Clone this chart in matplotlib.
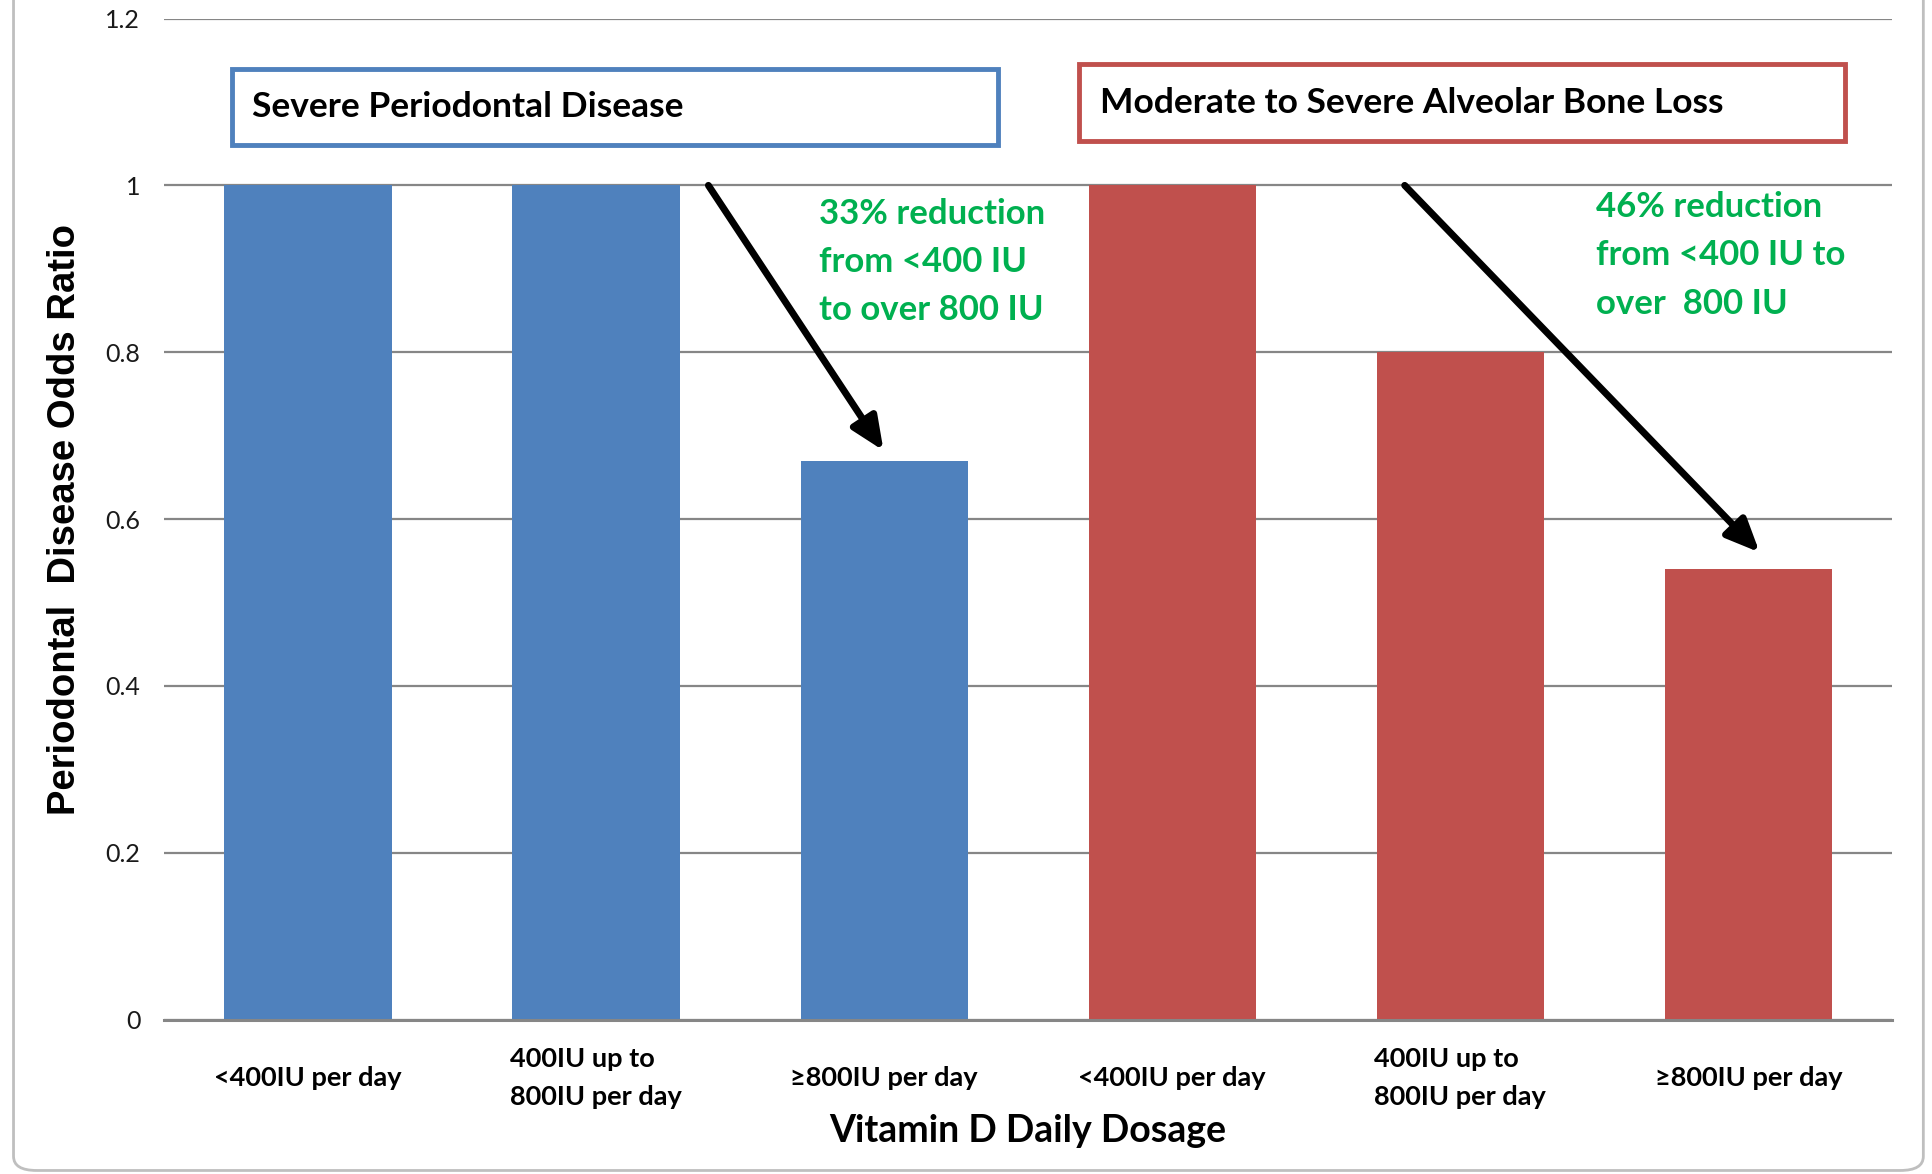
import numpy as np
import matplotlib.pyplot as plt
from matplotlib.patches import Rectangle, FancyBboxPatch
from matplotlib.ticker import FuncFormatter

# data
categories = ['<400IU per day', '400IU up to\n800IU per day', '\u2265800IU per day',
              '<400IU per day', '400IU up to\n800IU per day', '\u2265800IU per day']
odds_ratio = [1.0, 1.0, 0.67, 1.0, 0.8, 0.54]
bar_colors = ['#4F81BD', '#4F81BD', '#4F81BD', '#C0504D', '#C0504D', '#C0504D']
group_titles = ['Severe Periodontal Disease', 'Moderate to Severe Alveolar Bone Loss']
notes = ['33% reduction\nfrom <400 IU\nto over 800 IU',
         '46% reduction\nfrom <400 IU to\nover  800 IU']

FONT = 'Lato'
GRID = '#868686'

fig = plt.figure(figsize=(19.33, 11.74), dpi=100)
ax = fig.add_axes([0.0848, 0.1316, 0.979 - 0.0848, 0.9842 - 0.1316])

# chart area frame (rounded, light grey)
frame = FancyBboxPatch((0.007, 0.003), 0.988, 1.2, boxstyle='round,pad=0,rounding_size=0.012',
                       transform=fig.transFigure, facecolor='none', edgecolor='#BFBFBF',
                       lw=2, zorder=-10)
fig.patches.append(frame)

x = np.arange(len(categories))
ax.bar(x, odds_ratio, width=0.58, color=bar_colors, zorder=3)

ax.set_xlim(-0.5, len(categories) - 0.5)
ax.set_ylim(0, 1.2)
ax.set_yticks(np.arange(0, 1.21, 0.2))
ax.yaxis.set_major_formatter(FuncFormatter(lambda v, p: '{:g}'.format(round(v, 1))))
ax.grid(axis='y', color=GRID, lw=1.6, zorder=0)
for s in ['left', 'right', 'top']:
    ax.spines[s].set_visible(False)
ax.spines['bottom'].set_color(GRID)
ax.spines['bottom'].set_linewidth(2.2)
ax.spines['bottom'].set_zorder(4)
ax.tick_params(axis='both', length=0)
ax.tick_params(axis='y', pad=17, labelsize=18, labelcolor='#1a1a1a')
for t in ax.get_yticklabels():
    t.set_fontfamily(FONT)

ax.set_xticks(x)
ax.set_xticklabels(categories, fontfamily=FONT, fontweight='bold', fontsize=19.5,
                   va='center', multialignment='left', linespacing=1.72)
ax.tick_params(axis='x', pad=42)

ax.set_xlabel('Vitamin D Daily Dosage', fontfamily=FONT, fontweight='bold',
              fontsize=27, va='center')
ax.xaxis.set_label_coords(0.5, -0.111)
ax.set_ylabel('Periodontal  Disease Odds Ratio', fontfamily='Liberation Sans',
              fontweight='bold', fontsize=27.5, va='center')
ax.yaxis.set_label_coords(-0.0575, 0.5)

# group boxes
boxes = [(-0.265, 1.049, 2.661, 0.09, '#4F81BD'), (2.678, 1.053, 2.656, 0.092, '#C0504D')]
for (bx, by, bw, bh, ec), title in zip(boxes, group_titles):
    ax.add_patch(Rectangle((bx, by), bw, bh, facecolor='white', edgecolor=ec,
                           lw=3.5, zorder=5, clip_on=False))
    ax.text(bx + 0.07, by + bh / 2, title, fontfamily=FONT, fontweight='bold',
            fontsize=25.5, va='center', ha='left', zorder=6)

# reduction notes
ax.text(1.775, 0.908, notes[0], color='#00B050', fontfamily=FONT, fontweight='bold',
        fontsize=25, va='center', ha='left', linespacing=1.62, zorder=6)
ax.text(4.47, 0.916, notes[1], color='#00B050', fontfamily=FONT, fontweight='bold',
        fontsize=25, va='center', ha='left', linespacing=1.62, zorder=6)

arrow = dict(arrowstyle='-|>,head_length=0.5,head_width=0.22', lw=5, color='black',
             mutation_scale=40, shrinkA=0, shrinkB=0)
ax.annotate('', xy=(1.998, 0.682), xytext=(1.39, 1.0), arrowprops=arrow, zorder=6)
ax.annotate('', xy=(5.039, 0.56), xytext=(3.807, 1.0), arrowprops=arrow, zorder=6)

fig.savefig('out.png', dpi=100, facecolor='white')
